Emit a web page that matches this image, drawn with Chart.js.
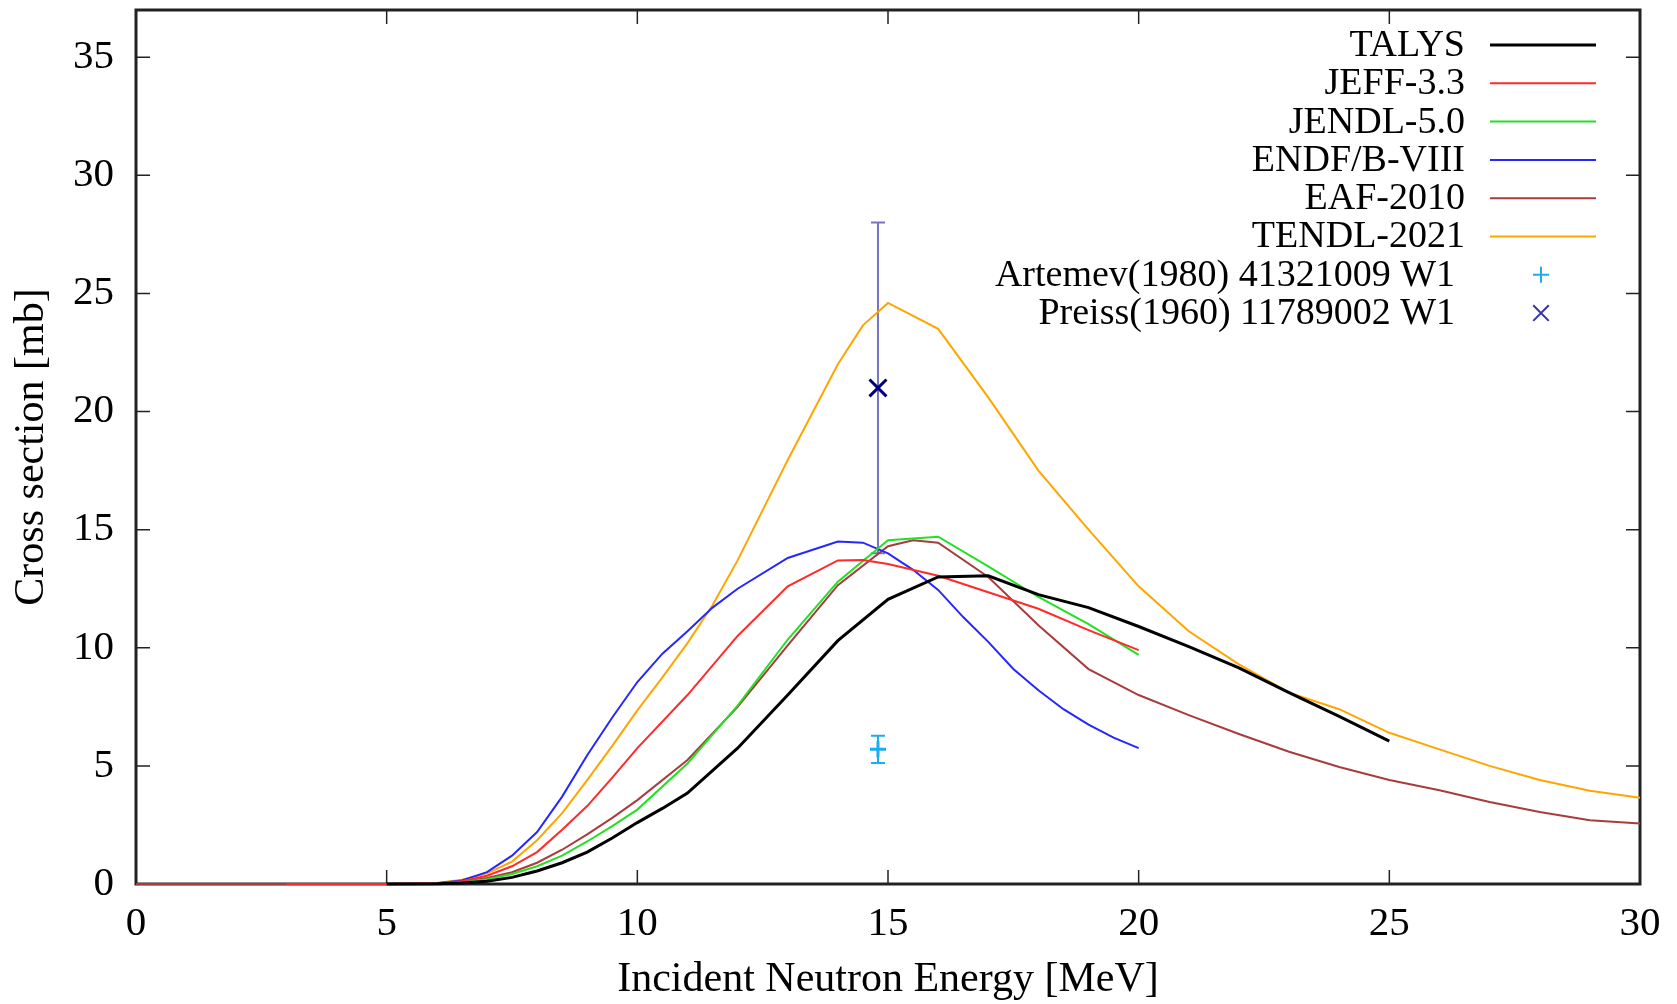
<!DOCTYPE html>
<html>
<head>
<meta charset="utf-8">
<script src="https://cdn.jsdelivr.net/npm/chart.js@4.4.1/dist/chart.umd.min.js"></script>
<style>
  body { margin: 0; background: #fff; }
  #wrap { width: 1677px; height: 1004px; }
</style>
</head>
<body>
<div id="wrap"><canvas id="xsChart" width="1677" height="1004"></canvas></div>
<script>
// axis ticks
const xTicks = [0, 5, 10, 15, 20, 25, 30];
const yTicks = [0, 5, 10, 15, 20, 25, 30, 35];

// evaluated curves (energy in MeV, cross section in mb)
const talysE = [5, 6, 6.5, 7, 7.5, 8, 8.5, 9, 9.5, 10, 10.5, 11, 12, 13, 14, 15, 16, 17, 18, 19, 20, 21, 22, 23, 24, 25];
const talysXS = [0, 0.01, 0.04, 0.12, 0.28, 0.55, 0.9, 1.35, 1.95, 2.6, 3.2, 3.85, 5.75, 8.0, 10.3, 12.05, 13.0, 13.05, 12.25, 11.7, 10.9, 10.05, 9.15, 8.1, 7.1, 6.05];

const jeffE = [3, 5, 6, 6.5, 7, 7.5, 8, 8.5, 9, 9.5, 10, 11, 12, 13, 14, 14.5, 15, 16, 17, 18, 19, 20];
const jeffXS = [0, 0, 0.03, 0.12, 0.35, 0.75, 1.35, 2.3, 3.3, 4.5, 5.75, 8.0, 10.5, 12.6, 13.7, 13.72, 13.55, 13.05, 12.35, 11.65, 10.75, 9.9];

const jendlE = [5, 6, 6.5, 7, 7.5, 8, 8.5, 9, 9.5, 10, 11, 12, 13, 14, 15, 16, 17, 18, 19, 20];
const jendlXS = [0, 0.02, 0.08, 0.2, 0.42, 0.75, 1.2, 1.8, 2.45, 3.15, 5.1, 7.55, 10.35, 12.8, 14.55, 14.7, 13.45, 12.15, 11.0, 9.7];

const endfE = [5, 6, 6.5, 7, 7.5, 8, 8.5, 9, 9.5, 10, 10.5, 11, 11.5, 12, 13, 14, 14.5, 15, 15.5, 16, 16.5, 17, 17.5, 18, 18.5, 19, 19.5, 20];
const endfXS = [0, 0.03, 0.15, 0.5, 1.2, 2.2, 3.7, 5.45, 7.05, 8.55, 9.75, 10.7, 11.7, 12.5, 13.8, 14.5, 14.45, 14.0, 13.3, 12.45, 11.3, 10.25, 9.1, 8.2, 7.4, 6.75, 6.2, 5.75];

const eafE = [0, 5, 6, 6.5, 7, 7.5, 8, 8.5, 9, 9.5, 10, 11, 12, 13, 14, 15, 15.5, 16, 17, 18, 19, 20, 21, 22, 23, 24, 25, 26, 27, 28, 29, 30];
const eafXS = [0, 0, 0.03, 0.1, 0.25, 0.5, 0.9, 1.45, 2.1, 2.8, 3.55, 5.25, 7.5, 10.1, 12.65, 14.3, 14.55, 14.45, 13.0, 10.95, 9.1, 8.0, 7.15, 6.35, 5.6, 4.95, 4.4, 3.97, 3.47, 3.05, 2.7, 2.56];

const tendlE = [3.8, 5, 6, 6.5, 7, 7.5, 8, 8.5, 9, 9.5, 10, 10.5, 11, 11.5, 12, 13, 14, 14.5, 15, 16, 17, 18, 19, 20, 21, 22, 23, 24, 25, 26, 27, 28, 29, 30];
const tendlXS = [0, 0, 0.04, 0.18, 0.45, 0.95, 1.85, 3.0, 4.4, 5.85, 7.35, 8.75, 10.2, 11.8, 13.7, 17.95, 22.0, 23.65, 24.6, 23.5, 20.6, 17.5, 15.0, 12.6, 10.7, 9.3, 8.1, 7.4, 6.4, 5.7, 5.0, 4.4, 3.95, 3.65];

// experimental points (EXFOR)
const artemevE = [14.8];
const artemevXS = [5.7];
const artemevErr = [0.58];

const preissE = [14.8];
const preissXS = [21.0];
const preissErr = [7.0];

const serif = "'Liberation Serif', 'Times New Roman', serif";

const toPoints = (es, vs) => es.map((e, i) => ({ x: e, y: vs[i] }));

const curve = (label, es, vs, color, width) => ({
    label,
    data: toPoints(es, vs),
    showLine: true,
    borderColor: color,
    backgroundColor: color,
    borderWidth: width,
    pointRadius: 0,
    tension: 0,
    clip: false,
});

const points = (label, es, vs, errs, style, color, barColor, radius) => ({
    label,
    data: toPoints(es, vs),
    showLine: false,
    pointStyle: style,
    pointRadius: radius,
    borderColor: color,
    backgroundColor: color,
    pointBorderWidth: 3,
    errors: errs,
    barColor,
    clip: false,
});

// frame with inward ticks on all sides, plus error bars
const framePlugin = {
    id: "frame",
    beforeDatasetsDraw(chart) {
        const { ctx, chartArea: a, scales } = chart;
        const x = scales.x;
        const y = scales.y;
        ctx.save();
        ctx.strokeStyle = "#222";
        ctx.lineWidth = 1.5;
        ctx.beginPath();
        xTicks.forEach((v) => {
            const px = x.getPixelForValue(v);
            ctx.moveTo(px, a.bottom);
            ctx.lineTo(px, a.bottom - 14);
            ctx.moveTo(px, a.top);
            ctx.lineTo(px, a.top + 14);
        });
        yTicks.forEach((v) => {
            const py = y.getPixelForValue(v);
            ctx.moveTo(a.left, py);
            ctx.lineTo(a.left + 14, py);
            ctx.moveTo(a.right, py);
            ctx.lineTo(a.right - 14, py);
        });
        ctx.stroke();
        ctx.lineWidth = 3;
        ctx.strokeRect(a.left, a.top, a.width, a.height);

        // error bars
        chart.data.datasets.forEach((ds) => {
            if (!ds.errors) return;
            ctx.strokeStyle = ds.barColor;
            ctx.lineWidth = 2;
            ds.data.forEach((p, i) => {
                const px = x.getPixelForValue(p.x);
                const top = y.getPixelForValue(p.y + ds.errors[i]);
                const bot = y.getPixelForValue(p.y - ds.errors[i]);
                ctx.beginPath();
                ctx.moveTo(px, top);
                ctx.lineTo(px, bot);
                ctx.moveTo(px - 7, top);
                ctx.lineTo(px + 7, top);
                ctx.moveTo(px - 7, bot);
                ctx.lineTo(px + 7, bot);
                ctx.stroke();
            });
        });
        ctx.restore();
    },
};

// gnuplot style key: text right aligned, sample on the right
const keyPlugin = {
    id: "key",
    afterDraw(chart) {
        const { ctx, chartArea: a } = chart;
        ctx.save();
        ctx.font = "38px " + serif;
        ctx.fillStyle = "#000";
        ctx.textAlign = "right";
        ctx.textBaseline = "middle";
        chart.data.datasets.forEach((ds, i) => {
            const rowY = a.top + 35 + i * 38.3;
            if (ds.showLine) {
                ctx.fillText(ds.label, a.right - 175, rowY + 1);
                ctx.strokeStyle = ds.borderColor;
                ctx.lineWidth = ds.borderWidth;
                ctx.beginPath();
                ctx.moveTo(a.right - 150, rowY);
                ctx.lineTo(a.right - 44, rowY);
                ctx.stroke();
            } else {
                ctx.fillText(ds.label, a.right - 185, rowY + 1);
                ctx.strokeStyle = ds.keyColor || ds.borderColor;
                Chart.helpers.drawPoint(ctx, {
                    pointStyle: ds.pointStyle,
                    radius: ds.pointStyle === "crossRot" ? 11 : 8,
                    borderWidth: 1.5,
                    rotation: 0,
                }, a.right - 99, rowY);
            }
        });
        ctx.restore();
    },
};

const artemev = points("Artemev(1980) 41321009 W1", artemevE, artemevXS, artemevErr, "cross", "#1aaef0", "#1aaef0", 8);
const preiss = points("Preiss(1960) 11789002 W1", preissE, preissXS, preissErr, "crossRot", "#00007a", "rgba(70, 70, 175, 0.75)", 12);
preiss.keyColor = "#3434b0";

const datasets = [
    curve("TALYS", talysE, talysXS, "#000000", 3),
    curve("JEFF-3.3", jeffE, jeffXS, "#ff2a2a", 2),
    curve("JENDL-5.0", jendlE, jendlXS, "#22e022", 2),
    curve("ENDF/B-VIII", endfE, endfXS, "#2626ff", 2),
    curve("EAF-2010", eafE, eafXS, "#a83c3c", 2),
    curve("TENDL-2021", tendlE, tendlXS, "#ffa500", 2),
    artemev,
    preiss,
];

const tickFont = { family: serif, size: 41 };
const titleFont = { family: serif, size: 42, lineHeight: 1 };

// keep the plot frame where the reference has it
const noScalePadding = (s) => {
    s.paddingTop = 0;
    s.paddingBottom = 0;
    s.paddingLeft = 0;
    s.paddingRight = 0;
};

new Chart(document.querySelector("#xsChart"), {
    type: "scatter",
    data: { datasets },
    options: {
        responsive: false,
        animation: false,
        layout: { autoPadding: false, padding: { top: 10, right: 37, left: 0, bottom: 0 } },
        plugins: { legend: { display: false }, tooltip: { enabled: false } },
        scales: {
            x: {
                type: "linear",
                min: 0,
                max: 30,
                grid: { display: false, drawTicks: false },
                border: { display: false },
                ticks: { padding: 16, font: tickFont, color: "#000", maxRotation: 0 },
                afterBuildTicks: (s) => { s.ticks = xTicks.map((v) => ({ value: v })); },
                afterFit: (s) => { s.height = 120; noScalePadding(s); },
                title: {
                    display: true,
                    text: "Incident Neutron Energy [MeV]",
                    font: titleFont,
                    color: "#000",
                    padding: { top: 0, bottom: 3 },
                },
            },
            y: {
                type: "linear",
                min: 0,
                max: 37,
                grid: { display: false, drawTicks: false },
                border: { display: false },
                ticks: { padding: 22, font: tickFont, color: "#000" },
                afterBuildTicks: (s) => { s.ticks = yTicks.map((v) => ({ value: v })); },
                afterFit: (s) => { s.width = 136; noScalePadding(s); },
                title: {
                    display: true,
                    text: "Cross section [mb]",
                    font: titleFont,
                    color: "#000",
                    padding: { top: 11, bottom: 0 },
                },
            },
        },
    },
    plugins: [framePlugin, keyPlugin],
});
</script>
</body>
</html>
